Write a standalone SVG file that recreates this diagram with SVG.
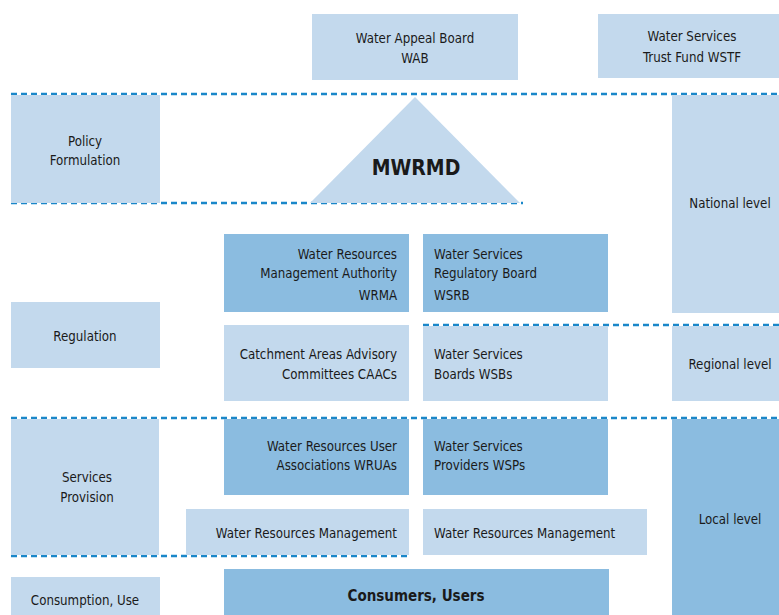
<svg xmlns="http://www.w3.org/2000/svg" width="779" height="615" viewBox="0 0 779 615">
  <style>
    .lt { fill: #c3d9ed; }
    .dk { fill: #8bbce0; }
    .t { font-family: "DejaVu Sans Condensed", "Liberation Sans", Arial, sans-serif; font-size: 13.2px; fill: #1a1a1a; }
    .c { text-anchor: middle; }
    .r { text-anchor: end; }
    .b { font-weight: bold; }
    .dash { stroke: #1a87c9; stroke-width: 2.4; stroke-dasharray: 6 4; fill: none; }
  </style>

  <!-- level separators -->
  <g id="connectors">
    <line class="dash" x1="11" y1="94" x2="779" y2="94"/>
    <line class="dash" x1="11" y1="203" x2="523" y2="203"/>
    <line class="dash" x1="423" y1="325" x2="779" y2="325"/>
    <line class="dash" x1="11" y1="418" x2="779" y2="418"/>
    <line class="dash" x1="11" y1="556" x2="409" y2="556"/>
  </g>

  <g id="wab">
    <rect class="lt" x="312" y="14" width="206" height="66"/>
    <text class="t c" x="415" y="43">Water Appeal Board</text>
    <text class="t c" x="415" y="63">WAB</text>
  </g>
  <g id="wstf">
    <rect class="lt" x="598" y="14" width="181" height="64"/>
    <text class="t c" x="692" y="41">Water Services</text>
    <text class="t c" x="692" y="62">Trust Fund WSTF</text>
  </g>

  <g id="policy">
    <rect class="lt" x="11" y="95" width="149" height="108"/>
    <text class="t c" x="85" y="146">Policy</text>
    <text class="t c" x="85" y="165">Formulation</text>
  </g>
  <g id="mwrmd">
    <polygon class="lt" points="415,97 520,203 310,203"/>
    <text class="t c b" x="416" y="175" style="font-size:21px">MWRMD</text>
  </g>
  <g id="national">
    <rect class="lt" x="672" y="95" width="107" height="218"/>
    <text class="t c" x="730" y="208">National level</text>
  </g>

  <g id="wrma">
    <rect class="dk" x="224" y="234" width="185" height="78"/>
    <text class="t r" x="397" y="259">Water Resources</text>
    <text class="t r" x="397" y="278">Management Authority</text>
    <text class="t r" x="397" y="300">WRMA</text>
  </g>
  <g id="wsrb">
    <rect class="dk" x="423" y="234" width="185" height="78"/>
    <text class="t" x="434" y="259">Water Services</text>
    <text class="t" x="434" y="278">Regulatory Board</text>
    <text class="t" x="434" y="300">WSRB</text>
  </g>
  <g id="regulation">
    <rect class="lt" x="11" y="302" width="149" height="66"/>
    <text class="t c" x="85" y="341">Regulation</text>
  </g>
  <g id="caacs">
    <rect class="lt" x="224" y="325" width="185" height="76"/>
    <text class="t r" x="397" y="359">Catchment Areas Advisory</text>
    <text class="t r" x="397" y="379">Committees CAACs</text>
  </g>
  <g id="wsbs">
    <rect class="lt" x="423" y="326" width="185" height="75"/>
    <text class="t" x="434" y="359">Water Services</text>
    <text class="t" x="434" y="379">Boards WSBs</text>
  </g>
  <g id="regional">
    <rect class="lt" x="672" y="326" width="107" height="75"/>
    <text class="t c" x="730" y="369">Regional level</text>
  </g>

  <g id="services">
    <rect class="lt" x="11" y="419" width="148" height="136"/>
    <text class="t c" x="87" y="482">Services</text>
    <text class="t c" x="87" y="502">Provision</text>
  </g>
  <g id="wruas">
    <rect class="dk" x="224" y="419" width="185" height="76"/>
    <text class="t r" x="397" y="451">Water Resources User</text>
    <text class="t r" x="397" y="470">Associations WRUAs</text>
  </g>
  <g id="wsps">
    <rect class="dk" x="423" y="419" width="185" height="76"/>
    <text class="t" x="434" y="451">Water Services</text>
    <text class="t" x="434" y="470">Providers WSPs</text>
  </g>
  <g id="wrm-left">
    <rect class="lt" x="186" y="509" width="223" height="46"/>
    <text class="t r" x="397" y="538">Water Resources Management</text>
  </g>
  <g id="wrm-right">
    <rect class="lt" x="423" y="509" width="224" height="46"/>
    <text class="t" x="434" y="538">Water Resources Management</text>
  </g>
  <g id="local">
    <rect class="dk" x="672" y="419" width="107" height="196"/>
    <text class="t c" x="730" y="524">Local level</text>
  </g>

  <g id="consumption">
    <rect class="lt" x="11" y="577" width="149" height="38"/>
    <text class="t c" x="85" y="605">Consumption, Use</text>
  </g>
  <g id="consumers">
    <rect class="dk" x="224" y="569" width="385" height="46"/>
    <text class="t c b" x="416" y="601" style="font-size:15px">Consumers, Users</text>
  </g>
</svg>
